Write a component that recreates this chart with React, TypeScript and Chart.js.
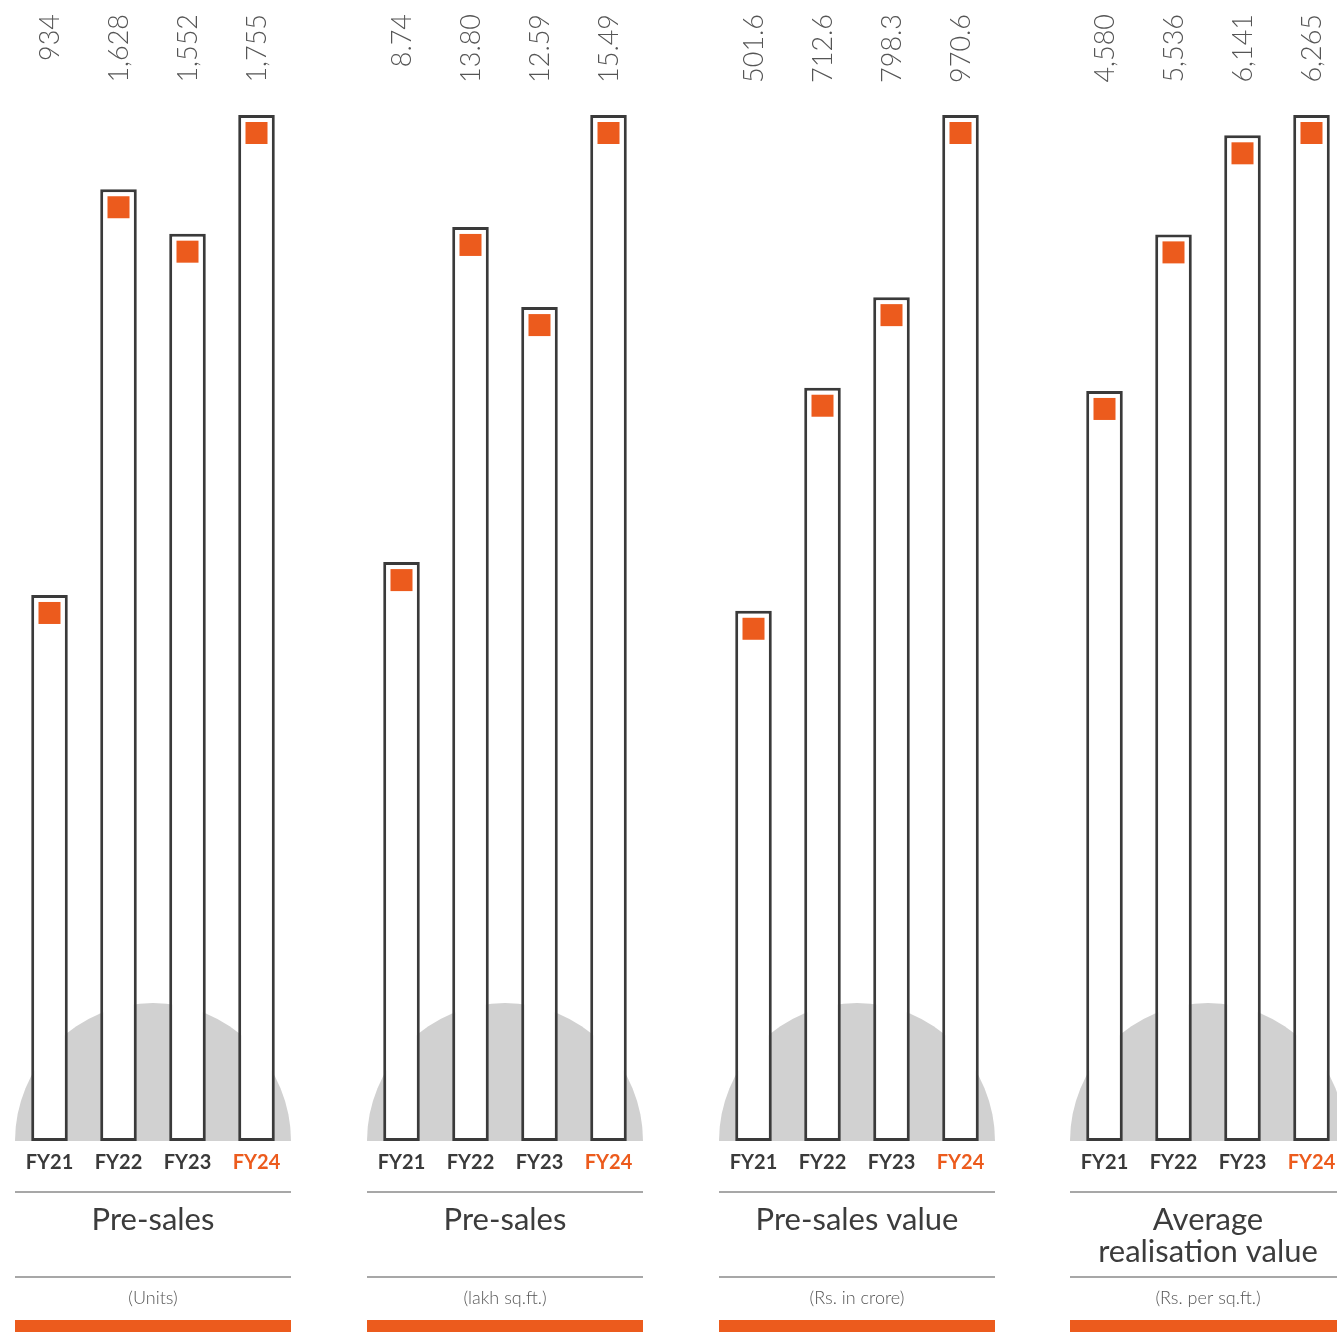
import React, { useEffect, useRef } from "react";
import { Chart, registerables } from "chart.js";

Chart.register(...registerables);

const categories = ["FY21", "FY22", "FY23", "FY24"];

const presalesUnits = [934, 1628, 1552, 1755];
const presalesUnitsLabels = ["934", "1,628", "1,552", "1,755"];

const presalesArea = [8.74, 13.8, 12.59, 15.49];
const presalesAreaLabels = ["8.74", "13.80", "12.59", "15.49"];

const presalesValue = [501.6, 712.6, 798.3, 970.6];
const presalesValueLabels = ["501.6", "712.6", "798.3", "970.6"];

const avgRealisation = [4580, 5536, 6141, 6265];
const avgRealisationLabels = ["4,580", "5,536", "6,141", "6,265"];

const titles = [["Pre-sales"], ["Pre-sales"], ["Pre-sales value"], ["Average", "realisation value"]];
const subtitles = ["(Units)", "(lakh sq.ft.)", "(Rs. in crore)", "(Rs. per sq.ft.)"];

const ORANGE = "#EC5B1D";
const DARK = "#3a3a3a";

type PanelProps = {
  values: number[];
  labels: string[];
  title: string[];
  subtitle: string;
  left: number;
};

function Panel({ values, labels, title, subtitle, left }: PanelProps) {
  const ref = useRef<HTMLCanvasElement | null>(null);
  useEffect(() => {
    if (!ref.current) return;
    const deco = {
      id: "deco",
      beforeDatasetsDraw(chart: any) {
        const { ctx, chartArea } = chart;
        const cx = (chartArea.left + chartArea.right) / 2;
        const r = (chartArea.right - chartArea.left) / 2;
        ctx.save();
        ctx.beginPath();
        ctx.arc(cx, chartArea.bottom, r, Math.PI, 0);
        ctx.closePath();
        ctx.fillStyle = "#d1d1d1";
        ctx.fill();
        ctx.restore();
      },
      afterDatasetsDraw(chart: any) {
        const { ctx } = chart;
        const meta = chart.getDatasetMeta(0);
        ctx.save();
        meta.data.forEach((bar: any, i: number) => {
          const s = 22;
          ctx.fillStyle = ORANGE;
          ctx.fillRect(bar.x - s / 2, bar.y + 7, s, s);
          ctx.save();
          ctx.translate(bar.x + 1, 14);
          ctx.rotate(-Math.PI / 2);
          ctx.textAlign = "right";
          ctx.textBaseline = "middle";
          ctx.fillStyle = "#555";
          ctx.font = "300 27px Lato";
          ctx.fillText(labels[i], 0, 0);
          ctx.restore();
        });
        ctx.restore();
      },
      afterDraw(chart: any) {
        const { ctx, chartArea } = chart;
        const l = chartArea.left;
        const rr = chartArea.right;
        const cx = (l + rr) / 2;
        ctx.save();
        ctx.strokeStyle = "#8a8a8a";
        ctx.lineWidth = 1.5;
        [1192, 1277].forEach((y) => {
          ctx.beginPath();
          ctx.moveTo(l, y);
          ctx.lineTo(rr, y);
          ctx.stroke();
        });
        ctx.fillStyle = "#3c3c3c";
        ctx.textAlign = "center";
        ctx.textBaseline = "middle";
        ctx.font = "400 31px Lato";
        title.forEach((t, i) => ctx.fillText(t, cx, 1220 + i * 32));
        ctx.fillStyle = "#555";
        ctx.font = "300 18px Lato";
        ctx.fillText(subtitle, cx, 1298);
        ctx.fillStyle = ORANGE;
        ctx.fillRect(l, 1320, rr - l, 12);
        ctx.restore();
      },
    };
    const chart = new Chart(ref.current, {
      type: "bar",
      data: {
        labels: categories,
        datasets: [
          {
            data: values,
            backgroundColor: "#ffffff",
            borderColor: DARK,
            borderWidth: 3,
            borderSkipped: false,
            barPercentage: 0.53,
            categoryPercentage: 1,
          } as any,
        ],
      },
      options: {
        animation: false,
        responsive: false,
        maintainAspectRatio: false,
        layout: { padding: { top: 115, left: 0, right: 0, bottom: 0 } },
        plugins: { legend: { display: false }, tooltip: { enabled: false } },
        scales: {
          x: {
            grid: { display: false },
            border: { display: false },
            ticks: {
              padding: 2,
              maxRotation: 0,
              autoSkip: false,
              color: (c: any) => (c.index === 3 ? ORANGE : DARK),
              font: { family: "Lato", weight: "bold", size: 20 },
            },
            afterFit: (s: any) => {
              s.height = 191;
            },
          },
          y: { display: false, min: 0, max: Math.max(...values) },
        },
      },
      plugins: [deco],
    } as any);
    return () => chart.destroy();
  }, []);
  return (
    <canvas
      ref={ref}
      width={276}
      height={1332}
      style={{ position: "absolute", left, top: 0, width: 276, height: 1332 }}
    />
  );
}

export default function App() {
  const panels = [
    { values: presalesUnits, labels: presalesUnitsLabels },
    { values: presalesArea, labels: presalesAreaLabels },
    { values: presalesValue, labels: presalesValueLabels },
    { values: avgRealisation, labels: avgRealisationLabels },
  ];
  const lefts = [15, 367, 719, 1070];
  return (
    <div
      style={{
        position: "absolute",
        left: 0,
        top: 0,
        width: 1337,
        height: 1332,
        overflow: "hidden",
        background: "#fff",
      }}
    >
      {panels.map((p, i) => (
        <Panel
          key={i}
          values={p.values}
          labels={p.labels}
          title={titles[i]}
          subtitle={subtitles[i]}
          left={lefts[i]}
        />
      ))}
    </div>
  );
}
